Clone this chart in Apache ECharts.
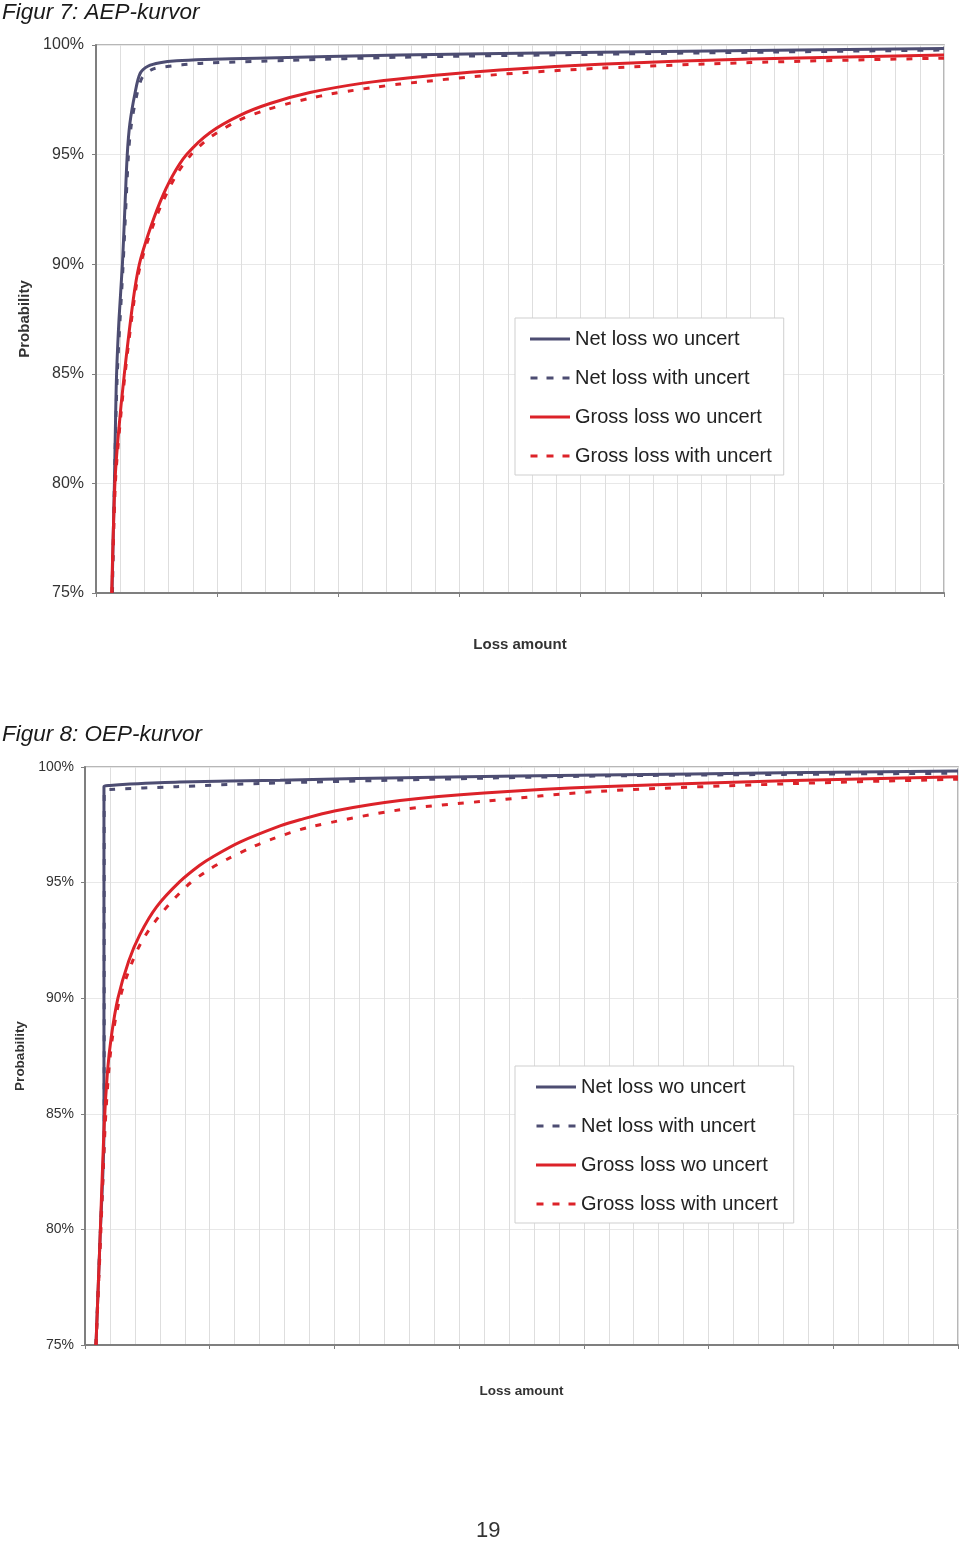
<!DOCTYPE html>
<html>
<head>
<meta charset="utf-8">
<script src="https://cdn.jsdelivr.net/npm/echarts@6/dist/echarts.min.js"></script>
<style>
  html, body { margin: 0; padding: 0; background: #fff; }
  #chart { width: 960px; height: 1541px; }
</style>
</head>
<body>
<div id="chart"></div>
<script>
// x = loss amount in grid units (0..35), y = probability in %
const seriesNames = ['Net loss wo uncert', 'Net loss with uncert', 'Gross loss wo uncert', 'Gross loss with uncert']
const yTicks = [75, 80, 85, 90, 95, 100]

// Figur 7: AEP
const aepNetWo = [[0.66,75],[0.72,78],[0.76,80],[0.8,82.5],[0.85,85],[0.95,87.5],[1.09,90],[1.19,92.5],[1.29,95],[1.4,96.43],[1.61,97.8],[1.82,98.7],[2.16,99.04],[2.64,99.19],[3.33,99.28],[4.5,99.34],[6.64,99.4],[12.55,99.54],[20.8,99.67],[28,99.76],[35,99.84]]
const aepNetWith = [[0.68,75],[0.76,80],[0.88,85],[1.12,90],[1.34,95],[1.45,96.3],[1.66,97.6],[1.9,98.5],[2.3,98.88],[2.8,99.0],[4.3,99.16],[8,99.3],[12.55,99.44],[20.8,99.58],[28,99.68],[35,99.77]]
const aepGrossWo = [[0.65,75],[0.78,80],[0.92,82.2],[1.17,85],[1.54,88.4],[1.79,90],[2.15,91.34],[2.64,92.82],[3.15,94.01],[3.74,95],[4.7,96],[5.94,96.79],[7.18,97.33],[8.83,97.83],[11.02,98.26],[12.96,98.51],[16.67,98.86],[20.8,99.12],[27,99.36],[35,99.54]]
const aepGrossWith = [[0.66,75],[0.8,80],[0.95,82.2],[1.2,85],[1.58,88.4],[1.84,90],[2.3,91.59],[2.7,92.71],[3.3,94.04],[3.88,94.94],[4.7,95.78],[5.94,96.59],[7.0,97.03],[8.0,97.35],[8.83,97.57],[9.66,97.76],[10.62,97.93],[11.44,98.06],[12.55,98.22],[16.67,98.66],[20.8,98.94],[27,99.2],[35,99.4]]

// Figur 8: OEP
const oepNetWo = [[0.44,75],[0.6,79.5],[0.76,84.3],[0.76,99.15],[1.0,99.2],[1.8,99.26],[3.8,99.35],[7.82,99.43],[14,99.56],[20.65,99.65],[28,99.75],[35,99.83]]
const oepNetWith = [[0.44,75],[0.6,79.5],[0.77,84.3],[0.77,98.98],[1.0,99.03],[3.68,99.15],[7.08,99.29],[14,99.47],[20.65,99.61],[28,99.68],[35,99.73]]
const oepGrossWo = [[0.44,75],[0.6,79.5],[0.76,84.3],[0.9,86.8],[1.05,88.3],[1.32,90],[1.75,91.6],[2.2,92.75],[2.87,93.95],[3.81,95.05],[4.6,95.75],[5.13,96.12],[6.21,96.75],[7.82,97.45],[8.62,97.72],[10,98.1],[12.63,98.55],[16,98.88],[20.65,99.15],[28,99.4],[35,99.58]]
const oepGrossWith = [[0.44,75],[0.62,79.5],[0.8,84.3],[0.95,86.8],[1.1,88.3],[1.4,90],[1.85,91.45],[2.3,92.5],[3.05,93.65],[4.08,94.85],[4.88,95.5],[5.68,96.0],[6.74,96.55],[7.49,96.88],[9,97.4],[12.63,98.15],[16,98.52],[20.65,98.95],[28,99.27],[35,99.47]]

const FONT = 'Liberation Sans, Arial, sans-serif'
const NAVY = '#4d4d72'
const RED = '#dc2229'
const DASH = [6, 10]
const SOLID_ICON = 'path://M0,0H40V3H0Z'
const DASH_ICON = 'path://M0,0H7V3H0Z M16,0H23V3H16Z M32,0H39V3H32Z'
const LEGEND_TEXT = { fontFamily: FONT, fontSize: 20, color: '#222', lineHeight: 20 }

const chart = echarts.init(document.getElementById('chart'))

function xAxisFor(gridIndex, nameSize, nameGap) {
  return {
    gridIndex: gridIndex,
    type: 'value',
    min: 0,
    max: 35,
    interval: 5,
    name: 'Loss amount',
    nameLocation: 'middle',
    nameGap: nameGap,
    nameTextStyle: { fontFamily: FONT, fontSize: nameSize, fontWeight: 'bold', color: '#333' },
    axisLine: { show: true, lineStyle: { color: '#7f7f7f', width: 2 } },
    axisTick: { show: true, length: 4, lineStyle: { color: '#7f7f7f', width: 1 } },
    axisLabel: { show: false },
    splitLine: { show: true, lineStyle: { color: '#dedede', width: 1 } },
    minorTick: { show: false, splitNumber: 5 },
    minorSplitLine: { show: true, lineStyle: { color: '#dedede', width: 1 } }
  }
}

function yAxisFor(gridIndex, labelSize, nameSize, nameGap, margin) {
  return {
    gridIndex: gridIndex,
    type: 'value',
    min: yTicks[0],
    max: yTicks[yTicks.length - 1],
    interval: 5,
    name: 'Probability',
    nameLocation: 'middle',
    nameGap: nameGap,
    nameTextStyle: { fontFamily: FONT, fontSize: nameSize, fontWeight: 'bold', color: '#333' },
    axisLine: { show: true, lineStyle: { color: '#7f7f7f', width: 2 } },
    axisTick: { show: true, length: 4, lineStyle: { color: '#7f7f7f', width: 1 } },
    axisLabel: { fontFamily: FONT, fontSize: labelSize, color: '#333', margin: margin, formatter: '{value}%' },
    splitLine: { show: true, lineStyle: { color: '#e8e8e8', width: 1 } }
  }
}

function seriesFor(idx, data) {
  const base = {
    type: 'line',
    xAxisIndex: idx,
    yAxisIndex: idx,
    symbol: 'none',
    smooth: 0.3,
    animation: false
  }
  return [
    Object.assign({}, base, { name: seriesNames[0], data: data[0], z: 3, lineStyle: { color: NAVY, width: 3 }, itemStyle: { color: NAVY } }),
    Object.assign({}, base, { name: seriesNames[1], data: data[1], z: 2, lineStyle: { color: NAVY, width: 3, type: DASH }, itemStyle: { color: NAVY } }),
    Object.assign({}, base, { name: seriesNames[2], data: data[2], z: 5, lineStyle: { color: RED, width: 3 }, itemStyle: { color: RED } }),
    Object.assign({}, base, { name: seriesNames[3], data: data[3], z: 4, lineStyle: { color: RED, width: 3, type: DASH }, itemStyle: { color: RED } })
  ]
}

function legendFor(left, top, padding) {
  return {
    data: [
      { name: seriesNames[0], icon: SOLID_ICON, textStyle: LEGEND_TEXT },
      { name: seriesNames[1], icon: DASH_ICON, textStyle: LEGEND_TEXT },
      { name: seriesNames[2], icon: SOLID_ICON, textStyle: LEGEND_TEXT },
      { name: seriesNames[3], icon: DASH_ICON, textStyle: LEGEND_TEXT }
    ],
    orient: 'vertical',
    left: left,
    top: top,
    padding: padding,
    itemGap: 19,
    itemWidth: 40,
    itemHeight: 3,
    itemStyle: { borderWidth: 0 },
    borderColor: '#cfcfcf',
    borderWidth: 1,
    backgroundColor: '#fff',
    selectedMode: false,
    textStyle: LEGEND_TEXT
  }
}

const option = {
  backgroundColor: '#fff',
  animation: false,
  title: [
    { text: 'Figur 7: AEP-kurvor', left: 0, top: 0, textStyle: { fontFamily: FONT, fontSize: 22.5, fontStyle: 'italic', fontWeight: 'normal', color: '#1a1a1a' }, padding: [1, 2] },
    { text: 'Figur 8: OEP-kurvor', left: 0, top: 722, textStyle: { fontFamily: FONT, fontSize: 22.5, fontStyle: 'italic', fontWeight: 'normal', color: '#1a1a1a' }, padding: [1, 2] },
    { text: '19', left: 474, top: 1520, textStyle: { fontFamily: FONT, fontSize: 22, fontWeight: 'normal', color: '#333' }, padding: [0, 2] }
  ],
  grid: [
    { left: 96, top: 45, width: 848, height: 548, show: true, borderColor: '#a0a0a0', borderWidth: 1.5, backgroundColor: 'transparent' },
    { left: 85, top: 767, width: 873, height: 578, show: true, borderColor: '#a0a0a0', borderWidth: 1.5, backgroundColor: 'transparent' }
  ],
  xAxis: [xAxisFor(0, 15, 44), xAxisFor(1, 13.5, 39)],
  yAxis: [yAxisFor(0, 16, 15, 57, 12), yAxisFor(1, 14, 13.5, 51, 11)],
  legend: [
    legendFor(515, 318, [11, 12, 9, 15]),
    legendFor(515, 1066, [11, 16, 9, 21])
  ],
  series: [].concat(
    seriesFor(0, [aepNetWo, aepNetWith, aepGrossWo, aepGrossWith]),
    seriesFor(1, [oepNetWo, oepNetWith, oepGrossWo, oepGrossWith])
  )
}

chart.setOption(option)
</script>
</body>
</html>
